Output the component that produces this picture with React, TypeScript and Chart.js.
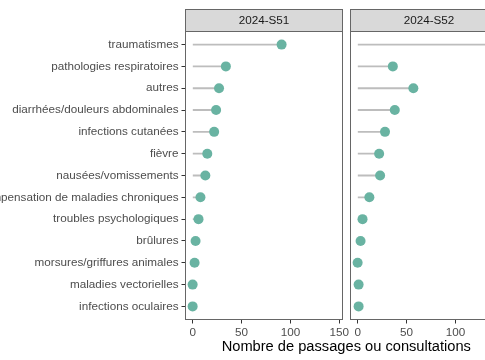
import React, { useEffect, useRef } from 'react';
import { Chart, registerables } from 'chart.js';

Chart.register(...registerables);
Chart.defaults.font.family = '"Liberation Sans", Arial, sans-serif';

const categories = [
  'traumatismes',
  'pathologies respiratoires',
  'autres',
  'diarrhées/douleurs abdominales',
  'infections cutanées',
  'fièvre',
  'nausées/vomissements',
  'décompensation de maladies chroniques',
  'troubles psychologiques',
  'brûlures',
  'morsures/griffures animales',
  'maladies vectorielles',
  'infections oculaires',
];
const weekLabels = ['2024-S51', '2024-S52'];
const valuesS51 = [91, 34, 27, 24, 22, 15, 13, 8, 6, 3, 2, 0, 0];
const valuesS52 = [146, 36, 57, 38, 28, 22, 23, 12, 5, 3, 0, 1, 1];
const xTicks = [0, 50, 100, 150];
const xMin = -7.3;
const xMax = 153.3;
const axisTitle = 'Nombre de passages ou consultations';

const panelFrame = {
  id: 'panelFrame',
  afterDraw(chart: any, _args: any, opts: any) {
    const { ctx, chartArea } = chart;
    const l = chartArea.left;
    const r = chartArea.right;
    const t = chartArea.top;
    const b = chartArea.bottom;
    const stripH = 22;
    ctx.save();
    ctx.fillStyle = '#d9d9d9';
    ctx.fillRect(l, t - stripH, r - l, stripH);
    ctx.strokeStyle = '#666666';
    ctx.lineWidth = 1;
    ctx.strokeRect(l, t - stripH, r - l, stripH);
    ctx.strokeRect(l, t, r - l, b - t);
    ctx.fillStyle = '#1a1a1a';
    ctx.font = '11.7px "Liberation Sans", Arial, sans-serif';
    ctx.textAlign = 'center';
    ctx.textBaseline = 'middle';
    ctx.fillText(opts.label, (l + r) / 2, t - stripH / 2 + 0.5);
    ctx.restore();
  },
};

function makeConfig(values: number[], label: string, showY: boolean, padding: any): any {
  const pts = values.map((v, i) => ({ x: v, y: i }));
  const tickGrid = {
    display: true,
    drawOnChartArea: false,
    drawTicks: true,
    tickLength: 4,
    tickColor: '#333333',
    color: '#333333',
  };
  const yScale: any = {
    type: 'linear',
    reverse: true,
    min: -0.6,
    max: 12.6,
    bounds: 'data',
    offset: false,
    display: showY,
    afterBuildTicks: (s: any) => {
      s.ticks = categories.map((_, i) => ({ value: i }));
    },
    ticks: {
      callback: (v: any) => categories[v] ?? '',
      color: '#4d4d4d',
      font: { size: 11.7 },
      padding: 3,
      autoSkip: false,
    },
    grid: { ...tickGrid, offset: false },
    border: { display: false },
  };
  if (showY) {
    yScale.afterFit = (s: any) => {
      s.width = 185.5;
    };
  }
  return {
    type: 'bar',
    data: {
      datasets: [
        {
          type: 'scatter',
          data: pts,
          backgroundColor: '#69b3a2',
          borderWidth: 0,
          pointRadius: 5,
          pointHoverRadius: 5,
          order: 0,
        },
        {
          type: 'bar',
          data: pts,
          backgroundColor: '#bdbdbd',
          barThickness: 1.2,
          indexAxis: 'y',
          order: 1,
        },
      ],
    },
    options: {
      indexAxis: 'y',
      responsive: false,
      animation: false,
      events: [],
      layout: { padding },
      plugins: {
        legend: { display: false },
        tooltip: { enabled: false },
        panelFrame: { label },
      },
      scales: {
        x: {
          type: 'linear',
          min: xMin,
          max: xMax,
          bounds: 'data',
          offset: false,
          beginAtZero: false,
          afterBuildTicks: (s: any) => {
            s.ticks = xTicks.map((v) => ({ value: v }));
          },
          afterFit: (s: any) => {
            s.height = 40.5;
          },
          grid: tickGrid,
          border: { display: false },
          ticks: {
            color: '#4d4d4d',
            font: { size: 11.7 },
            padding: 2,
            autoSkip: false,
            maxRotation: 0,
          },
        },
        y: yScale,
      },
    },
    plugins: [panelFrame],
  };
}

export default function App() {
  const ref1 = useRef<HTMLCanvasElement>(null);
  const ref2 = useRef<HTMLCanvasElement>(null);
  useEffect(() => {
    document.body.style.margin = '0';
    const c1 = new Chart(
      ref1.current as HTMLCanvasElement,
      makeConfig(valuesS51, weekLabels[0], true, { left: 0, top: 31.5, right: 22.5, bottom: 0 })
    );
    const c2 = new Chart(
      ref2.current as HTMLCanvasElement,
      makeConfig(valuesS52, weekLabels[1], false, { left: 10.5, top: 31.5, right: 32.5, bottom: 0 })
    );
    return () => {
      c1.destroy();
      c2.destroy();
    };
  }, []);
  return (
    <div style={{ position: 'relative', width: 485, height: 360, overflow: 'hidden', background: '#ffffff' }}>
      <canvas ref={ref1} width={365} height={360} style={{ position: 'absolute', left: 0, top: 0 }} />
      <canvas ref={ref2} width={200} height={360} style={{ position: 'absolute', left: 340, top: 0 }} />
      <div
        style={{
          position: 'absolute',
          left: 346.3,
          top: 337.5,
          transform: 'translateX(-50%)',
          whiteSpace: 'nowrap',
          font: '14.67px "Liberation Sans", Arial, sans-serif',
          lineHeight: '17px',
          color: '#000000',
        }}
      >
        {axisTitle}
      </div>
    </div>
  );
}
